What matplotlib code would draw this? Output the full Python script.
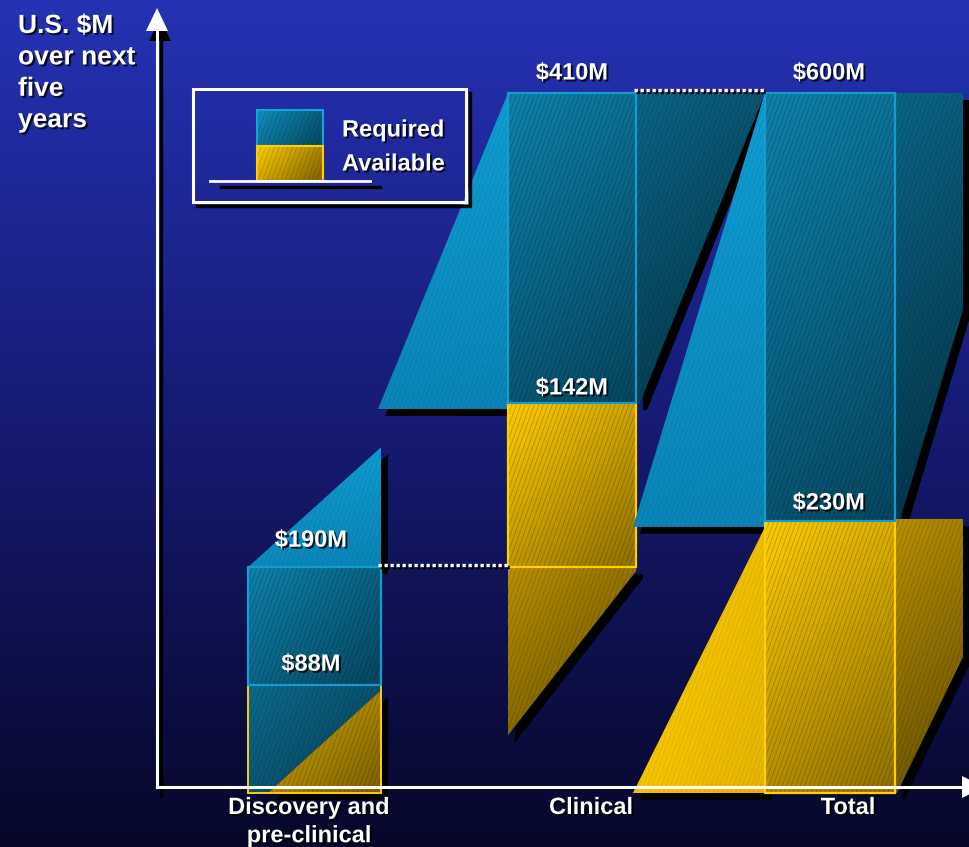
import numpy as np
import matplotlib
matplotlib.use("Agg")
import matplotlib.pyplot as plt
from matplotlib.patches import Polygon
from matplotlib.collections import LineCollection
from matplotlib.colors import to_rgb
import matplotlib.patheffects as pe

# ---- data ($M over next five years) ----
categories = ["Discovery and\npre-clinical", "Clinical", "Total"]
required = [190, 410, 600]
available = [88, 142, 230]
series_names = ["Required", "Available"]
y_label = "U.S. $M\nover next\nfive\nyears"

# waterfall: clinical floats on top of discovery, total starts at zero
bases = [0, required[0], 0]

# ---- canvas geometry ----
W, H = 969, 847
ZERO_ROW = 787                 # pixel row of the $0 baseline
PX_PER_M = 694 / 600           # vertical scale, pixels per $M
CLIP_X = 963                   # right edge of the slide artwork


def m(px):
    """pixel height -> $M height"""
    return px / PX_PER_M


def row(px_row):
    """pixel row -> value on the y scale"""
    return (ZERO_ROW - px_row) / PX_PER_M


fig = plt.figure(figsize=(W / 100, H / 100), dpi=100)
ax = fig.add_axes([0, 0, 1, 1])
ax.set_xlim(0, W)
ax.set_ylim(row(H), row(0))
ax.axis("off")
ax.set_autoscale_on(False)

FONT = "Liberation Sans"
shadow_fx = [pe.withSimplePatchShadow(offset=(1.4, -1.4), shadow_rgbFace="black", alpha=0.8)]

# ---- background gradient ----
stops = [(0.0, "#2532b4"), (0.45, "#181d7a"), (1.0, "#07072a")]
tt = np.linspace(0, 1, 400)
cols = np.zeros((400, 3))
for k in range(3):
    cols[:, k] = np.interp(tt, [s[0] for s in stops], [to_rgb(s[1])[k] for s in stops])
ax.imshow(cols[:, None, :], extent=[0, W, row(H), row(0)], origin="upper",
          aspect="auto", zorder=0, interpolation="bilinear")


def clip_right(pts, xmax):
    """clip a polygon against the vertical line x = xmax"""
    out = []
    n = len(pts)
    for i in range(n):
        p, q = pts[i], pts[(i + 1) % n]
        pin, qin = p[0] <= xmax, q[0] <= xmax
        if pin:
            out.append(p)
        if pin != qin:
            t = (xmax - p[0]) / (q[0] - p[0])
            out.append((xmax, p[1] + t * (q[1] - p[1])))
    return out


def face(pts, c1, c2, z, edge=None, lw=1.6, hatch_alpha=0.28, shadow=True,
         direction=(1.0, 1.0), clip=False):
    pts = [(float(x), float(y)) for x, y in pts]
    if clip:
        pts = clip_right(pts, CLIP_X)
    arr = np.array(pts)
    if shadow:
        sh = arr + np.array([7, -m(7)])
        ax.add_patch(Polygon(sh, closed=True, facecolor="black", edgecolor="none", zorder=1))
    poly = Polygon(arr, closed=True, facecolor="none", edgecolor="none", zorder=z)
    ax.add_patch(poly)
    x0, x1 = arr[:, 0].min(), arr[:, 0].max()
    y0, y1 = arr[:, 1].min(), arr[:, 1].max()
    wpx, hpx = x1 - x0, (y1 - y0) * PX_PER_M
    nx, ny = max(int(wpx), 2), max(int(hpx), 2)
    X, Y = np.meshgrid(np.linspace(0, wpx, nx), np.linspace(0, hpx, ny))
    t = X * direction[0] + Y * direction[1]
    t = (t - t.min()) / (t.max() - t.min() + 1e-9)
    img = (1 - t)[..., None] * np.array(to_rgb(c1)) + t[..., None] * np.array(to_rgb(c2))
    im = ax.imshow(img, extent=[x0, x1, y0, y1], origin="upper", aspect="auto",
                   zorder=z, interpolation="bilinear")
    im.set_clip_path(poly)
    if hatch_alpha > 0:
        slope, gap = 0.36, 4.5
        starts = np.arange(x0 - slope * hpx - gap, x1 + gap, gap)
        segs = [[(s, y0), (s + slope * hpx, y1)] for s in starts]
        lc = LineCollection(segs, colors="#000000", linewidths=0.45,
                            alpha=hatch_alpha, zorder=z + 0.01)
        ax.add_collection(lc)
        lc.set_clip_path(poly)
    if edge is not None:
        ax.add_patch(Polygon(arr, closed=True, facecolor="none", edgecolor=edge,
                             linewidth=lw, zorder=z + 0.02, joinstyle="miter"))


def rect(xl, xr, lo, hi):
    return [(xl, lo), (xr, lo), (xr, hi), (xl, hi)]


# colours
BLUE_LIGHT = ("#0fa0d6", "#0a84b6")
BLUE_FRONT = ("#0e82ac", "#06465e")
BLUE_DARK = ("#0b6586", "#042f42")
BLUE_EDGE = "#149bd2"
YEL_BRIGHT = ("#ffd000", "#e6b400")
YEL_FRONT = ("#ffcc00", "#8e7000")
YEL_DARK = ("#b89000", "#624c00")
YEL_EDGE = "#ffcf00"

bar_left = [248, 508, 765]
bar_width = [133, 128, 130]
drop = m(6)

# ---- Discovery and pre-clinical ----
xl, xr = bar_left[0], bar_left[0] + bar_width[0]
b0, top, av = bases[0], bases[0] + required[0], bases[0] + available[0]
face([(xl, top), (xr, top + m(120)), (xr, top)], *BLUE_LIGHT, z=2, hatch_alpha=0.12,
     direction=(0.2, 1.0))
face([(xl, av), (xr, av), (xr, av - m(5)), (xl + 20, b0 - drop), (xl, b0 - drop)],
     "#0d6a8c", "#063e55", z=2.1, hatch_alpha=0.2, shadow=False)
face([(xl + 20, b0 - drop), (xr, av - m(5)), (xr, b0 - drop)], "#dcae00", "#7a6000",
     z=2.2, hatch_alpha=0.25)
ax.plot([xl, xl, xr, xr], [av, b0 - drop, b0 - drop, av], color=YEL_EDGE, lw=1.4,
        zorder=2.3, solid_joinstyle="miter")
face(rect(xl, xr, av, top), *BLUE_FRONT, z=2.4, edge=BLUE_EDGE, shadow=False)

# ---- Clinical ----
xl, xr = bar_left[1], bar_left[1] + bar_width[1]
b0 = bases[1]
top, av = b0 + required[1], b0 + available[1]
face([(xl - 130, av - m(6)), (xl, top), (xl, av - m(6))], *BLUE_LIGHT, z=3,
     hatch_alpha=0.12, direction=(0.2, 1.0))
face([(xr, top), (xr + 129, top), (xr + 4, av), (xr, av)], *BLUE_DARK, z=3,
     hatch_alpha=0.2)
face([(xl, b0), (xr, b0), (xr, b0 - m(4)), (xl, b0 - m(168))], *YEL_DARK, z=3,
     hatch_alpha=0.2)
face(rect(xl, xr, b0, av), *YEL_FRONT, z=3.2, edge=YEL_EDGE, shadow=False)
face(rect(xl, xr, av, top), *BLUE_FRONT, z=3.3, edge=BLUE_EDGE, shadow=False)

# ---- Total ----
xl, xr = bar_left[2], bar_left[2] + bar_width[2]
b0 = bases[2]
top, av = b0 + required[2], b0 + available[2]
face([(xl - 132, av - m(6)), (xl, top), (xl, av - m(6))], *BLUE_LIGHT, z=4,
     hatch_alpha=0.12, direction=(0.2, 1.0))
face([(xr, top), (xr + 133, top), (xr + 3, av - m(6)), (xr, av - m(6))], *BLUE_DARK,
     z=4, hatch_alpha=0.2, clip=True)
face([(xl - 132, b0 - drop), (xl, av - m(6)), (xl, b0 - drop)], *YEL_BRIGHT, z=4,
     hatch_alpha=0.1, direction=(1.0, 0.3))
face([(xr, av + m(2)), (xr + 135, av + m(2)), (xr + 2, b0 - drop), (xr, b0 - drop)],
     *YEL_DARK, z=4, hatch_alpha=0.2, clip=True)
face(rect(xl, xr, b0 - drop, av), *YEL_FRONT, z=4.2, edge=YEL_EDGE, shadow=False)
face(rect(xl, xr, av, top), *BLUE_FRONT, z=4.3, edge=BLUE_EDGE, shadow=False)

# ---- dotted connectors between bar tops ----
conn = [(bar_left[0] + bar_width[0] - 3, bar_left[1], required[0] + m(2)),
        (bar_left[1] + bar_width[1] - 2, bar_left[2], required[2] + m(3))]
for x_a, x_b, yv in conn:
    ax.plot([x_a + 2, x_b + 2], [yv - m(2), yv - m(2)], color="black", lw=2.4,
            ls=(0, (1, 0.8)), zorder=5, dash_capstyle="butt")
    ax.plot([x_a, x_b], [yv, yv], color="white", lw=2.4, ls=(0, (1, 0.8)),
            zorder=5.1, dash_capstyle="butt")

# ---- value labels ----
label_x = [311, 572, 829]
gap_req = [27, 20, 20]      # px between bar top and its label
gap_av = [21, 15, 18]       # px between available level and its label
for i in range(3):
    top = bases[i] + required[i]
    av = bases[i] + available[i]
    ax.text(label_x[i], top + m(gap_req[i]), f"${required[i]}M", ha="center",
            va="center", color="white", fontsize=17, fontweight="bold", family=FONT,
            zorder=8, path_effects=shadow_fx)
    ax.text(label_x[i], av + m(gap_av[i]), f"${available[i]}M", ha="center",
            va="center", color="white", fontsize=17, fontweight="bold", family=FONT,
            zorder=8, path_effects=shadow_fx)

# ---- category labels ----
cat_x = [309, 591, 848]
for x, lab in zip(cat_x, categories):
    ax.text(x, row(796), lab, ha="center", va="top", color="white", fontsize=17,
            fontweight="bold", family=FONT, linespacing=1.29, zorder=8,
            path_effects=shadow_fx)

# ---- axes with arrowheads ----
AX_X = 157
ax.plot([AX_X + 4, AX_X + 4], [row(795), row(40)], color="black", lw=2.4, zorder=6)
ax.add_patch(Polygon([(AX_X + 3, row(18)), (AX_X - 8, row(41)), (AX_X + 14, row(41))],
                     closed=True, facecolor="black", edgecolor="none", zorder=6))
ax.plot([AX_X, AX_X], [0, row(30)], color="white", lw=2.2, zorder=6.1)
ax.add_patch(Polygon([(AX_X, row(8)), (AX_X - 11, row(31)), (AX_X + 11, row(31))],
                     closed=True, facecolor="white", edgecolor="none", zorder=6.2))
ax.plot([AX_X, 962], [0, 0], color="white", lw=2.2, zorder=6.1)
ax.add_patch(Polygon([(962, row(776)), (962, row(798)), (984, row(787))],
                     closed=True, facecolor="white", edgecolor="none", zorder=6.2))

ax.text(18, row(14), y_label, ha="left", va="top", color="white", fontsize=19,
        fontweight="bold", family=FONT, linespacing=1.39, zorder=8,
        path_effects=shadow_fx)

# ---- legend ----
bx0, bx1, by0, by1 = 193, 466, 89, 202
ax.plot([bx0 + 4, bx1 + 4, bx1 + 4], [row(by1 + 4), row(by1 + 4), row(by0 + 4)],
        color="black", lw=2.4, zorder=6.5)
ax.add_patch(Polygon(rect(bx0, bx1, row(by1), row(by0)), closed=True, facecolor="none",
                     edgecolor="white", linewidth=2.2, zorder=6.6, joinstyle="miter"))
sx0, sx1 = 257, 323
face(rect(sx0, sx1, row(146), row(110)), "#0f8fc0", "#06465e", z=6.7,
     edge="#18a2da", lw=1.5, shadow=False, hatch_alpha=0.2)
face(rect(sx0, sx1, row(181), row(146)), "#ffcc00", "#7c6200", z=6.7,
     edge=YEL_EDGE, lw=1.5, shadow=False, hatch_alpha=0.2)
ax.plot([221, 380], [row(187), row(187)], color="black", lw=2.4, zorder=6.6)
ax.plot([210, 370], [row(181), row(181)], color="white", lw=2.0, zorder=6.8)
for name, yr in zip(series_names, [130, 164]):
    ax.text(342, row(yr), name, ha="left", va="center", color="white", fontsize=17,
            fontweight="bold", family=FONT, zorder=8, path_effects=shadow_fx)

fig.savefig("out.png", dpi=100)
